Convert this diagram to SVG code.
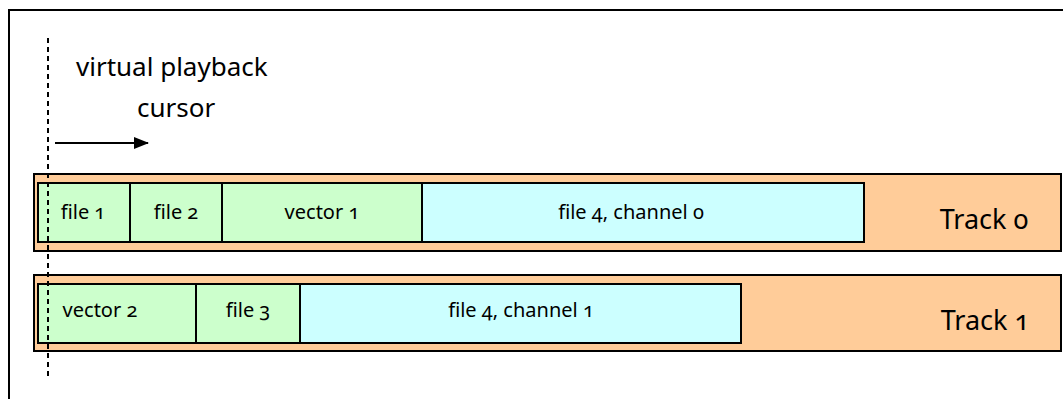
<svg xmlns="http://www.w3.org/2000/svg" width="1063" height="399" viewBox="0 0 1063 399">
<defs>
<style>
text{font-family:"Noto Sans","Open Sans","DejaVu Sans",sans-serif;fill:#000;font-variant-numeric:oldstyle-nums}
.track{fill:#FFCC99;stroke:#000;stroke-width:2}
.clipg{fill:#CCFFCC;stroke:#000;stroke-width:2}
.clipc{fill:#CCFFFF;stroke:#000;stroke-width:2}
.lbl{font-size:20px;text-anchor:middle}
.tlbl{font-size:27px;text-anchor:middle}
.big{font-size:26px}
</style>
<marker id="arr" markerWidth="15" markerHeight="12" refX="14" refY="6" orient="auto" markerUnits="userSpaceOnUse">
<path d="M0,0 L15,6 L0,12 Z" fill="#000"/>
</marker>
</defs>
<rect x="0" y="0" width="1063" height="399" fill="#fff"/>
<path d="M9,400 V10 H1064" fill="none" stroke="#000" stroke-width="2"/>
<g id="track0">
<rect class="track" x="34" y="174" width="1027" height="77"/>
<text class="tlbl" x="984" y="229">Track 0</text>
</g>
<g id="clip-file1"><rect class="clipg" x="38" y="183" width="92" height="59"/><text class="lbl" x="83" y="219">file 1</text></g>
<g id="clip-file2"><rect class="clipg" x="130" y="183" width="92" height="59"/><text class="lbl" x="176" y="219">file 2</text></g>
<g id="clip-vector1"><rect class="clipg" x="222" y="183" width="200" height="59"/><text class="lbl" x="322" y="219">vector 1</text></g>
<g id="clip-file4c0"><rect class="clipc" x="422" y="183" width="442" height="59"/><text class="lbl" x="631" y="219">file 4, channel 0</text></g>
<g id="track1">
<rect class="track" x="34" y="275" width="1027" height="76"/>
<text class="tlbl" x="985" y="330">Track 1</text>
</g>
<g id="clip-vector2"><rect class="clipg" x="38" y="284" width="158" height="59"/><text class="lbl" x="100" y="317">vector 2</text></g>
<g id="clip-file3"><rect class="clipg" x="196" y="284" width="104" height="59"/><text class="lbl" x="248" y="317">file 3</text></g>
<g id="clip-file4c1"><rect class="clipc" x="300" y="284" width="441" height="59"/><text class="lbl" x="521" y="317">file 4, channel 1</text></g>
<g id="cursor">
<text class="big" x="76" y="76">virtual playback</text>
<text class="big" x="137" y="117">cursor</text>
</g>
<g id="connectors">
<line x1="48" y1="38" x2="48" y2="380" stroke="#000" stroke-width="2" stroke-dasharray="5,4"/>
<line x1="55" y1="143" x2="148" y2="143" stroke="#000" stroke-width="2" marker-end="url(#arr)"/>
</g>
</svg>
